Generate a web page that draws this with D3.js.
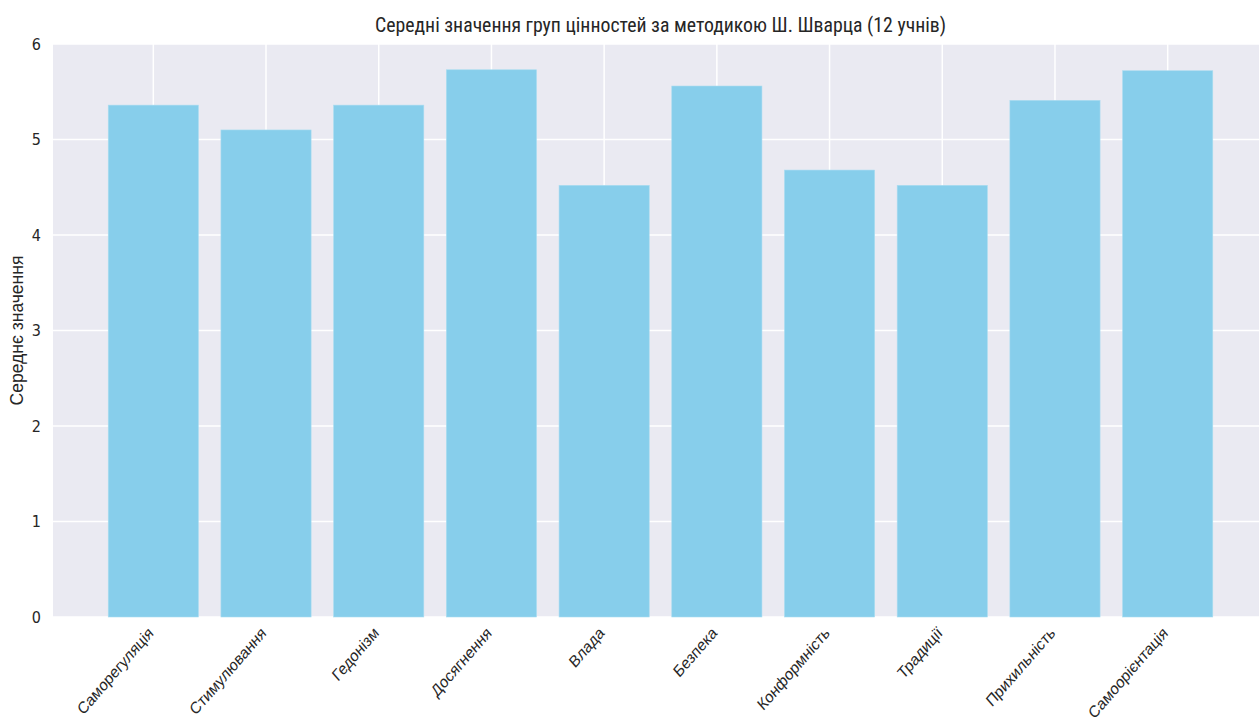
<!DOCTYPE html>
<html>
<head>
<meta charset="utf-8">
<script src="https://cdn.jsdelivr.net/npm/d3@7"></script>
<style>
  body { margin: 0; background: #fff; }
  svg { display: block; }
  .title { font-family: "Liberation Sans Narrow", "Roboto Condensed", "DejaVu Sans Condensed", sans-serif; font-size: 19.8px; fill: #262626; }
  .ytick { font-family: "Liberation Sans Narrow", "DejaVu Sans Condensed", sans-serif; font-size: 16px; fill: #262626; }
  .xtick { font-family: "Liberation Sans", Arial, sans-serif; font-size: 14.5px; fill: #262626; }
  .axis-label { font-family: "Liberation Sans", Arial, sans-serif; font-size: 17.5px; fill: #262626; }
</style>
</head>
<body>
<svg id="chart" width="1259" height="727"></svg>
<script>
// value groups and mean scores
const categories = ['Саморегуляція', 'Стимулювання', 'Гедонізм', 'Досягнення', 'Влада',
                    'Безпека', 'Конформність', 'Традиції', 'Прихильність', 'Самоорієнтація'];
const means = [5.36, 5.10, 5.36, 5.73, 4.52, 5.56, 4.68, 4.52, 5.41, 5.72];
const yTicks = [0, 1, 2, 3, 4, 5, 6];
const titleText = 'Середні значення груп цінностей за методикою Ш. Шварца (12 учнів)';
const yLabel = 'Середнє значення';

const margin = { top: 44, left: 53 };
const plotWidth = 1215;
const plotHeight = 573;

const svg = d3.select('#chart');
const g = svg.append('g')
  .attr('transform', 'translate(' + margin.left + ',' + margin.top + ')');

// matplotlib-like x limits: bars of width .8 plus 5% margins
const n = categories.length;
const pad = 0.05 * (n - 1 + 0.8);
const x = d3.scaleLinear()
  .domain([-0.4 - pad, n - 1 + 0.4 + pad])
  .range([0, plotWidth]);

const y = d3.scaleLinear()
  .domain([0, 6])
  .range([plotHeight, 0]);

// background
g.append('rect')
  .attr('width', plotWidth)
  .attr('height', plotHeight)
  .attr('fill', '#eaeaf2');

// grid
g.selectAll('.hgrid')
  .data(yTicks)
  .enter().append('line')
  .attr('x1', 0).attr('x2', plotWidth)
  .attr('y1', d => y(d)).attr('y2', d => y(d))
  .attr('stroke', '#fff').attr('stroke-width', 1.5);

g.selectAll('.vgrid')
  .data(categories)
  .enter().append('line')
  .attr('x1', (d, i) => x(i)).attr('x2', (d, i) => x(i))
  .attr('y1', 0).attr('y2', plotHeight)
  .attr('stroke', '#fff').attr('stroke-width', 1.5);

// bars
g.selectAll('.bar')
  .data(means)
  .enter().append('rect')
  .attr('x', (d, i) => x(i - 0.4))
  .attr('width', x(0.8) - x(0))
  .attr('y', d => y(d))
  .attr('height', d => y(0) - y(d))
  .attr('fill', '#87ceeb')
  .attr('stroke', '#a9dcf0')
  .attr('stroke-width', 0.6);

// y tick labels
g.selectAll('.ytick')
  .data(yTicks)
  .enter().append('text')
  .attr('class', 'ytick')
  .attr('x', -12)
  .attr('y', d => y(d))
  .attr('dy', '0.35em')
  .attr('text-anchor', 'end')
  .text(d => d);

// x tick labels rotated 45° (picture is a bit stretched vertically)
g.selectAll('.xtick')
  .data(categories)
  .enter().append('text')
  .attr('class', 'xtick')
  .attr('text-anchor', 'end')
  .attr('transform', (d, i) => 'translate(' + (x(i) + 1) + ',' + (plotHeight + 17) + ') scale(1,1.15) rotate(-45)')
  .text(d => d);

// y axis label
g.append('text')
  .attr('class', 'axis-label')
  .attr('transform', 'rotate(-90)')
  .attr('x', -y(3))
  .attr('y', -30)
  .attr('text-anchor', 'middle')
  .text(yLabel);

// title
g.append('text')
  .attr('class', 'title')
  .attr('x', plotWidth / 2)
  .attr('y', -12)
  .attr('text-anchor', 'middle')
  .text(titleText);
</script>
</body>
</html>
